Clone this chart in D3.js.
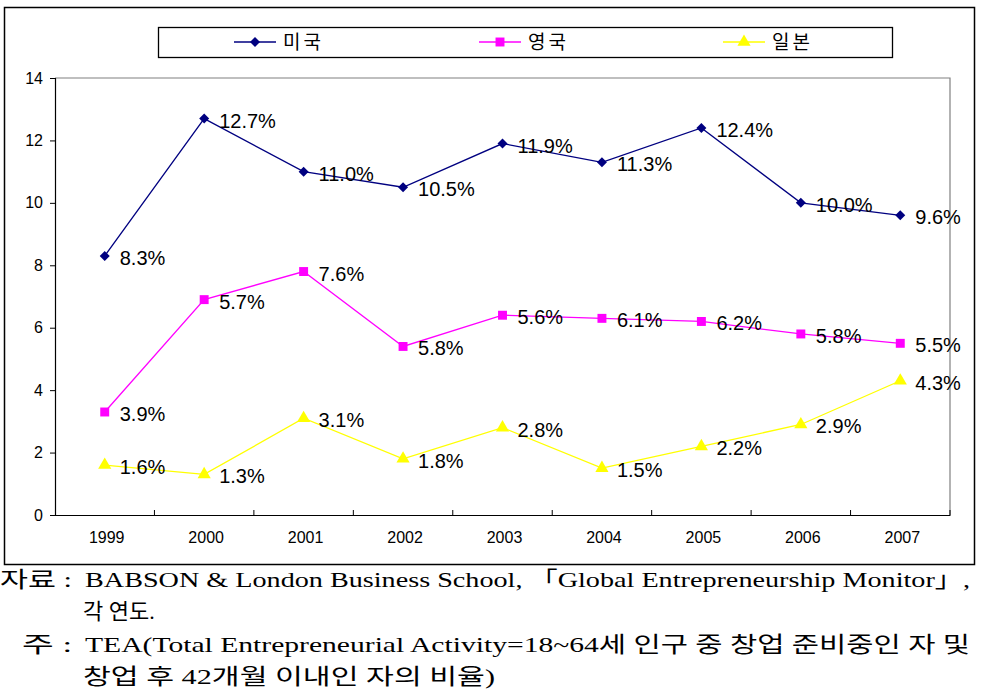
<!DOCTYPE html>
<html><head><meta charset="utf-8">
<script src="https://cdn.jsdelivr.net/npm/d3@7"></script>
<style>body{margin:0;background:#fff}svg{display:block}</style>
</head><body><svg id="c" width="995" height="699"></svg>
<script>
const years = ["1999","2000","2001","2002","2003","2004","2005","2006","2007"];
const seriesNames = ["미국","영국","일본"];
const usValues = [8.3,12.7,11.0,10.5,11.9,11.3,12.4,10.0,9.6];
const ukValues = [3.3,6.9,7.8,5.4,6.4,6.3,6.2,5.8,5.5];
const jpValues = [1.6,1.3,3.1,1.8,2.8,1.5,2.2,2.9,4.3];
const usLabels = ["8.3%","12.7%","11.0%","10.5%","11.9%","11.3%","12.4%","10.0%","9.6%"];
const ukLabels = ["3.9%","5.7%","7.6%","5.8%","5.6%","6.1%","6.2%","5.8%","5.5%"];
const jpLabels = ["1.6%","1.3%","3.1%","1.8%","2.8%","1.5%","2.2%","2.9%","4.3%"];
const yTicks = [0,2,4,6,8,10,12,14];
const footerLines = [
  {prefix:"자료 :", body:"BABSON & London Business School, 「Global Entrepreneurship Monitor」,"},
  {prefix:"", body:"각 연도."},
  {prefix:"주 :", body:"TEA(Total Entrepreneurial Activity=18~64세 인구 중 창업 준비중인 자 및"},
  {prefix:"", body:"창업 후 42개월 이내인 자의 비율)"}
];

const svg = d3.select("#c");
const colors = ["#000080","#FF00FF","#FFFF00"];
const shapes = [d3.symbolSquare, d3.symbolSquare, d3.symbolTriangle];
const symSizes = [50, 80, 75];
const symRot = [45, 0, 0];
const series = [
  {name:seriesNames[0], values:usValues, labels:usLabels},
  {name:seriesNames[1], values:ukValues, labels:ukLabels},
  {name:seriesNames[2], values:jpValues, labels:jpLabels}
];

// outer frame
svg.append("rect").attr("x",4.5).attr("y",7.5).attr("width",970).attr("height",557)
  .attr("fill","none").attr("stroke","#000").attr("stroke-width",1.5);

const L=55, R=950, T=78, B=515;
const x = d3.scaleBand().domain(years).range([L,R]);
const y = d3.scaleLinear().domain([0,14]).range([B,T]);

svg.append("path").attr("d",`M${L},${T}H${R}V${B}`).attr("fill","none").attr("stroke","#808080").attr("stroke-width",1.2);

const ya = svg.append("g").attr("transform",`translate(${L},0)`)
  .call(d3.axisLeft(y).tickValues(yTicks).tickSize(5).tickPadding(7).tickFormat(d3.format("d")));
ya.select(".domain").attr("stroke","#000").attr("stroke-width",1.2);
ya.selectAll(".tick line").attr("stroke","#000");
ya.selectAll("text").attr("font-family","Liberation Sans, Arial, sans-serif").attr("font-size",16).attr("fill","#000");

const xa = svg.append("g").attr("transform",`translate(0,${B})`)
  .call(d3.axisBottom(x).tickSize(0).tickPadding(17));
xa.select(".domain").attr("stroke","#000").attr("stroke-width",1.2);
xa.selectAll("text").attr("font-family","Liberation Sans, Arial, sans-serif").attr("font-size",16).attr("fill","#000").attr("dx",2);
xa.selectAll(".bt").data(years.slice(1)).enter().append("line")
  .attr("x1",d=>x(d)).attr("x2",d=>x(d)).attr("y1",0).attr("y2",-5).attr("stroke","#000");
xa.append("line").attr("x1",R).attr("x2",R).attr("y1",0).attr("y2",-5).attr("stroke","#000");

const line = d3.line().x((d,i)=>x(years[i])+x.bandwidth()/2).y(d=>y(d));
series.forEach((s,k)=>{
  const g = svg.append("g");
  g.append("path").attr("d",line(s.values)).attr("fill","none").attr("stroke",colors[k]).attr("stroke-width",1.3);
  g.selectAll("path.m").data(s.values).enter().append("path").attr("class","m")
    .attr("d",d3.symbol().type(shapes[k]).size(symSizes[k]))
    .attr("transform",(d,i)=>`translate(${x(years[i])+x.bandwidth()/2},${y(d)}) rotate(${symRot[k]})`)
    .attr("fill",colors[k]);
  g.selectAll("text").data(s.values).enter().append("text")
    .attr("x",(d,i)=>x(years[i])+x.bandwidth()/2+15)
    .attr("y",d=>y(d)+9)
    .attr("font-family","Liberation Sans, Arial, sans-serif").attr("font-size",20).attr("fill","#000")
    .text((d,i)=>s.labels[i]);
});

svg.append("rect").attr("x",158.5).attr("y",27.5).attr("width",734).attr("height",30)
  .attr("fill","#fff").attr("stroke","#000").attr("stroke-width",1.3);
const legX = [234, 479, 723];
series.forEach((s,k)=>{
  const g = svg.append("g").attr("transform",`translate(${legX[k]},42)`);
  g.append("line").attr("x1",0).attr("x2",42).attr("stroke",colors[k]).attr("stroke-width",1.3);
  g.append("path").attr("d",d3.symbol().type(shapes[k]).size(symSizes[k])).attr("transform",`translate(21,0) rotate(${symRot[k]})`).attr("fill",colors[k]);
  g.append("text").attr("x",49).attr("y",7).attr("font-family","Noto Sans CJK KR, sans-serif")
    .attr("font-size",19).attr("letter-spacing",3).attr("fill","#000").text(s.name);
});

const fy = [587, 619, 652, 684];
const prefX = [0, 0, 22, 0];
const bodyX = [85, 83, 85, 83];
const bodyLen = [885, null, 885, 412];
footerLines.forEach((f,i)=>{
  if (f.prefix) svg.append("text").attr("x",prefX[i]).attr("y",fy[i])
    .attr("font-family","Liberation Serif, Noto Sans CJK KR, serif").attr("font-size",22)
    .attr("textLength", i===0?72:50).attr("lengthAdjust","spacingAndGlyphs").attr("fill","#000").text(f.prefix);
  const t = svg.append("text").attr("x",bodyX[i]).attr("y",fy[i])
    .attr("font-family","Liberation Serif, Noto Sans CJK KR, serif").attr("font-size",22).attr("fill","#000").text(f.body);
  if (bodyLen[i]) t.attr("textLength",bodyLen[i]).attr("lengthAdjust","spacingAndGlyphs");
});
</script></body></html>
